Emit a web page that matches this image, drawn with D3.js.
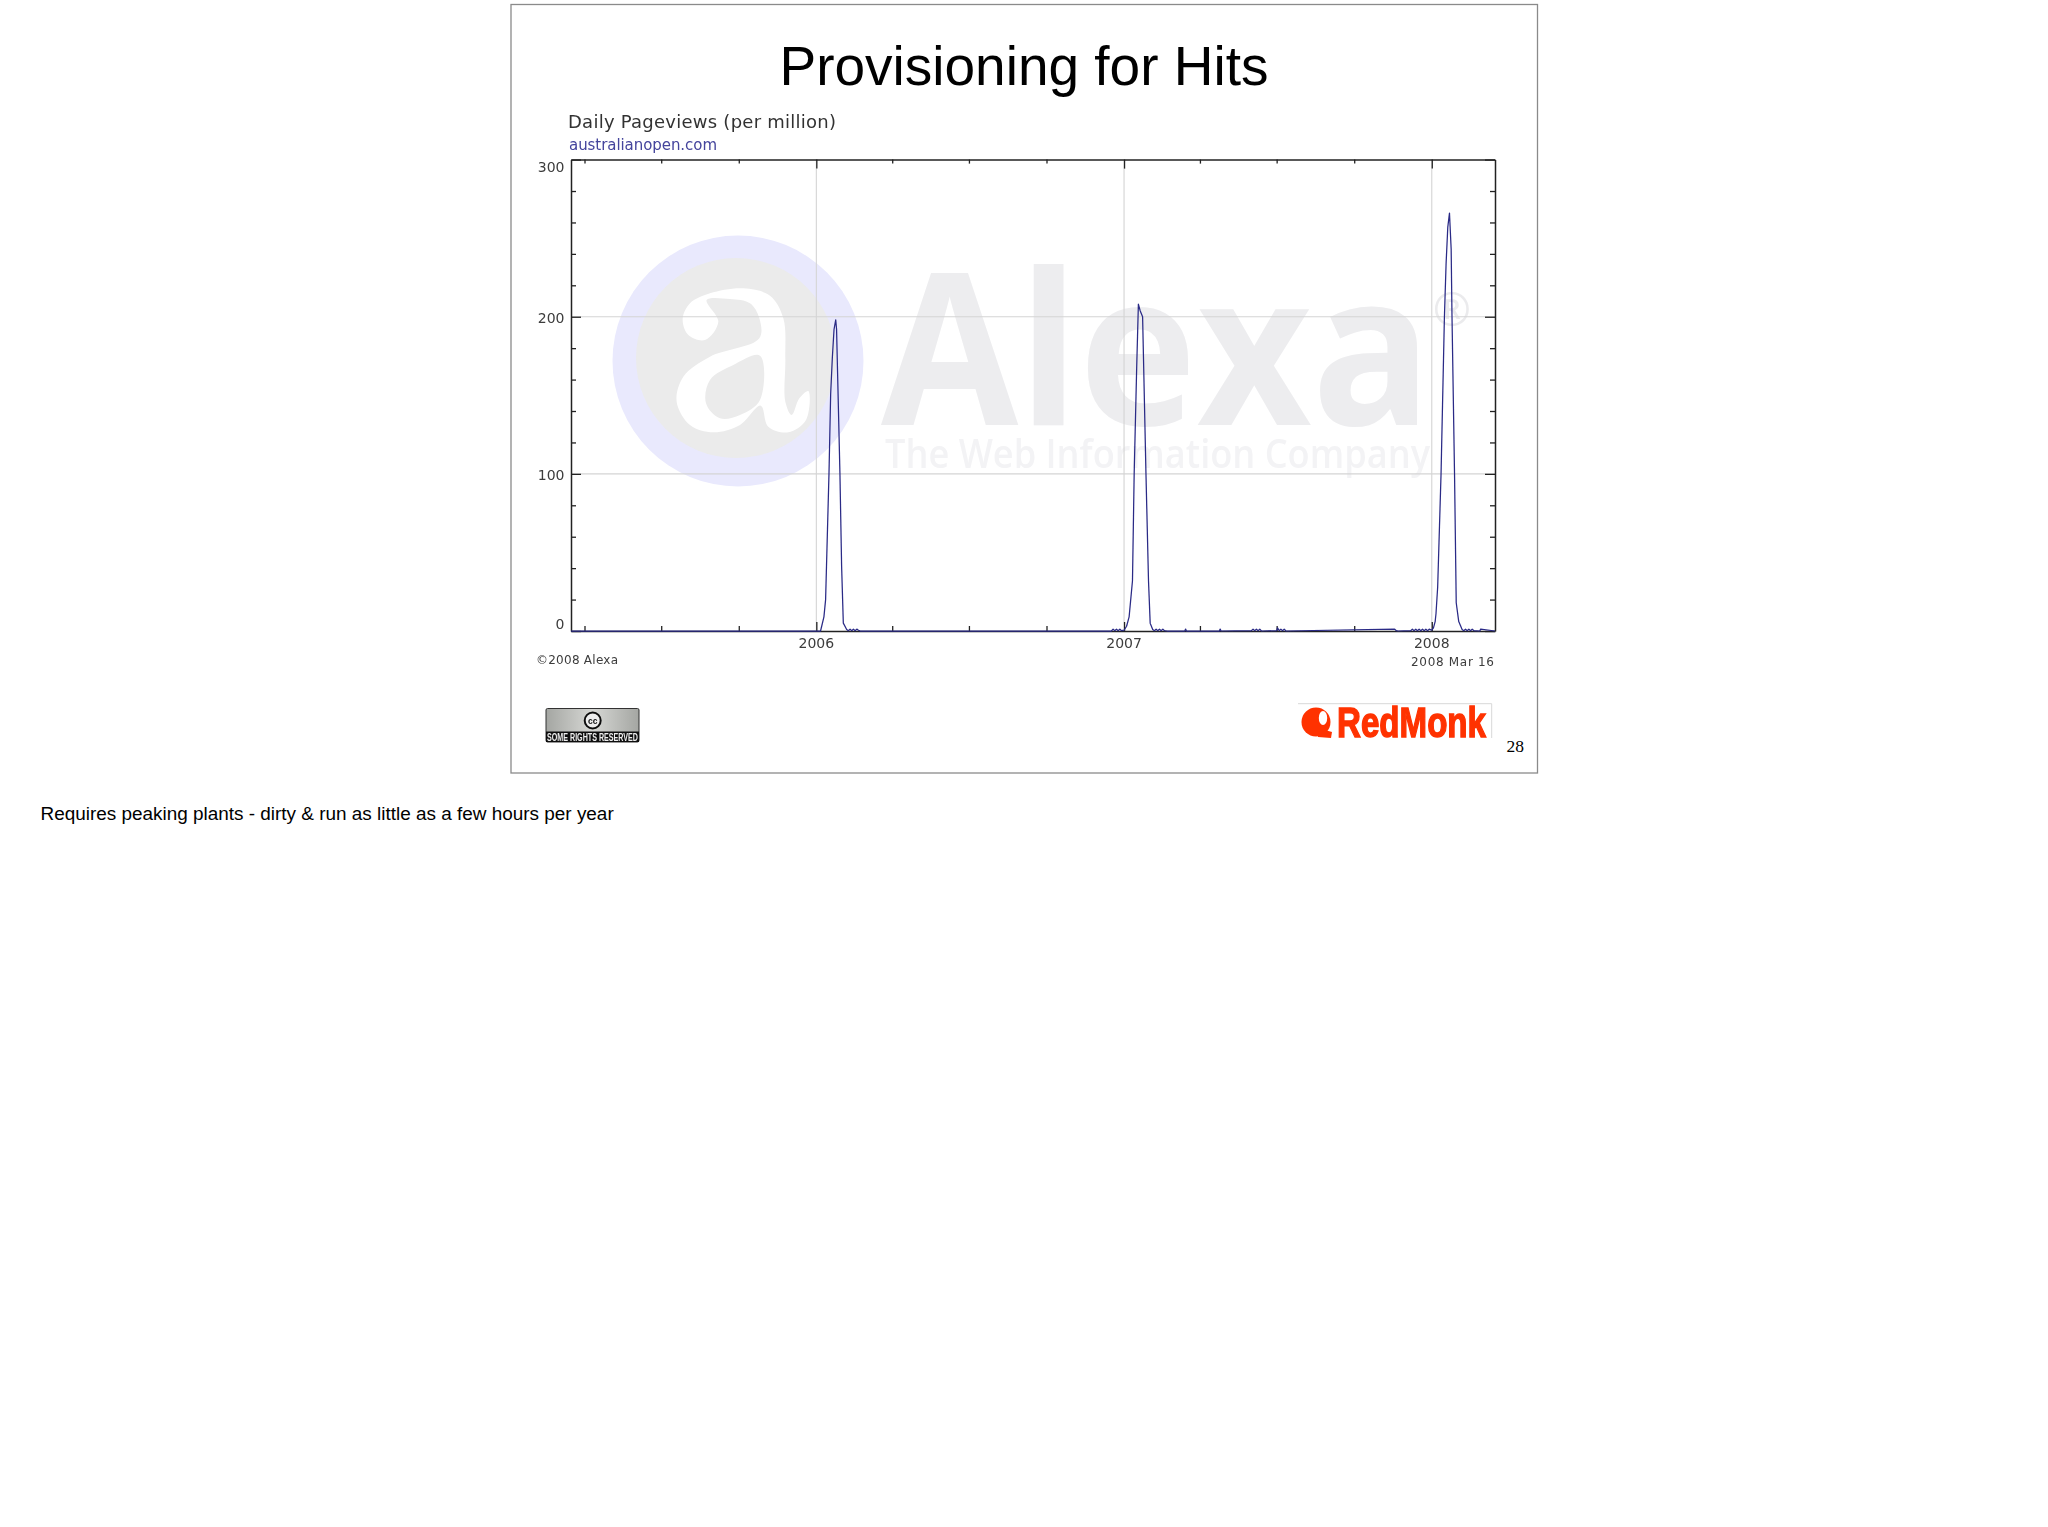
<!DOCTYPE html>
<html><head><meta charset="utf-8">
<script src="https://cdn.jsdelivr.net/npm/d3@7/dist/d3.min.js"></script>
<style>html,body{margin:0;padding:0;background:#fff}svg{display:block}text{font-family:"DejaVu Sans"}</style>
</head><body><svg id="c" width="2048" height="1527"></svg>
<script>
const slideTitle = "Provisioning for Hits";
const chartTitle = "Daily Pageviews (per million)";
const siteName = "australianopen.com";
const noteText = "Requires peaking plants - dirty & run as little as a few hours per year";
const yTickLabels = [0, 100, 200, 300];
const yMinorValues = [20,40,60,80,120,140,160,180,220,240,260,280];
const yearTicks = ["2006-01-01","2007-01-01","2008-01-01"];
const dateRange = ["2005-03-16","2008-03-16"];

const baseDates = ["2005-03-16","2005-06-01","2005-10-01","2006-01-01"];
const baseValues = [0,0,0,0];
const peak2006Dates = ["2006-01-06","2006-01-10","2006-01-12","2006-01-16","2006-01-18","2006-01-20","2006-01-22","2006-01-24","2006-01-25","2006-01-26","2006-01-29","2006-01-31","2006-02-02","2006-02-06"];
const peak2006Values = [0,9,20,100,151,174,192,198,192,169,100,41,5,1];
const tail2006Dates = ["2006-02-08","2006-02-10","2006-02-12","2006-02-14","2006-02-16","2006-02-18","2006-02-20","2006-02-22","2006-06-01","2006-10-01","2006-12-17"];
const tail2006Values = [0.2,1.2,0.2,1.2,0.2,1.2,0.5,0,0,0,0];
const lead2007Dates = ["2006-12-19","2006-12-21","2006-12-23","2006-12-25","2006-12-27","2006-12-29","2007-01-01"];
const lead2007Values = [1.2,0.2,1.2,0.2,1.2,0.2,0.5];
const peak2007Dates = ["2007-01-04","2007-01-07","2007-01-11","2007-01-13","2007-01-16","2007-01-18","2007-01-20","2007-01-23","2007-01-24","2007-01-27","2007-01-30","2007-02-01","2007-02-04"];
const peak2007Values = [3,9,32,100,168,208,204,200,175,100,32,5,1];
const tail2007Dates = ["2007-02-06","2007-02-08","2007-02-10","2007-02-12","2007-02-14","2007-02-16","2007-02-18","2007-02-21","2007-03-14","2007-03-15","2007-03-16","2007-04-24","2007-04-25","2007-04-26","2007-06-01","2007-06-03","2007-06-05","2007-06-07","2007-06-09","2007-06-11","2007-06-13","2007-07-01","2007-07-02","2007-07-04","2007-07-06","2007-07-08","2007-07-10","2007-07-12","2007-11-18","2007-11-20","2007-11-22","2007-12-07","2007-12-09","2007-12-11","2007-12-13","2007-12-15","2007-12-17","2007-12-19","2007-12-21","2007-12-23","2007-12-25","2007-12-27","2007-12-29"];
const tail2007Values = [0.2,1.2,0.2,1.2,0.2,1.2,0.2,0,0,1.2,0,0,1.2,0,0.2,1.2,0.2,1.2,0.2,1.2,0,0.2,2,0.2,1.2,0.2,1.2,0,1.2,0.2,0,0.2,1.2,0.2,1.2,0.2,1.2,0.2,1.2,0.2,1.2,0.2,1.2];
const peak2008Dates = ["2008-01-01","2008-01-03","2008-01-05","2008-01-06","2008-01-08","2008-01-12","2008-01-16","2008-01-18","2008-01-20","2008-01-22","2008-01-24","2008-01-25","2008-01-28","2008-01-30","2008-02-02","2008-02-06"];
const peak2008Values = [0.5,2,6,11,28,100,200,234,257,266,243,200,100,18,6,1];
const tail2008Dates = ["2008-02-08","2008-02-10","2008-02-12","2008-02-14","2008-02-16","2008-02-18","2008-02-20","2008-02-27","2008-02-28","2008-03-16"];
const tail2008Values = [0.2,1.2,0.2,1.2,0.2,1.2,0.2,0,1.2,0];

const allDates = [].concat(baseDates,peak2006Dates,tail2006Dates,lead2007Dates,peak2007Dates,tail2007Dates,peak2008Dates,tail2008Dates);
const allValues = [].concat(baseValues,peak2006Values,tail2006Values,lead2007Values,peak2007Values,tail2007Values,peak2008Values,tail2008Values);
const parse = d3.utcParse("%Y-%m-%d");
const series = allDates.map((d,i)=>({d:parse(d),v:allValues[i]}));

const L=571,R=1495,T=159.6,B=631;
const x = d3.scaleUtc().domain(dateRange.map(parse)).range([L,R]);
const y = d3.scaleLinear().domain([0,300]).range([B,T]);
const svg = d3.select("#c");
const SANS='"Liberation Sans"', AX="#222", TXT="#3c3c3c";

const defs = svg.append("defs");
defs.append("filter").attr("id","soft").append("feGaussianBlur").attr("stdDeviation",0.45);
const gr = defs.append("linearGradient").attr("id","ccg").attr("x1",0).attr("x2",1);
gr.append("stop").attr("offset",0).attr("stop-color","#a4a6a2");
gr.append("stop").attr("offset",.5).attr("stop-color","#d6d7d4");
gr.append("stop").attr("offset",1).attr("stop-color","#a4a6a2");

svg.append("rect").attr("x",511).attr("y",4.5).attr("width",1026.5).attr("height",768.5).attr("fill","#fff").attr("stroke","#8a8a8a").attr("stroke-width",1.3);
svg.append("text").attr("x",1024).attr("y",85).attr("text-anchor","middle").attr("font-size",55).style("font-family",SANS).attr("fill","#000").text(slideTitle);

const g = svg.append("g").attr("filter","url(#soft)");
// watermark
const wm = g.append("g");
wm.append("circle").attr("cx",738).attr("cy",361).attr("r",125.5).attr("fill","#e9e9fd");
wm.append("circle").attr("cx",736).attr("cy",358).attr("r",100).attr("fill","#ebebeb");
const logoX=d3.scaleLinear().domain([0,3]).range([600,601]), logoY=d3.scaleLinear().domain([0,3]).range([225,226]);
const logoPath=d3.line().x(p=>logoX(p[0])).y(p=>logoY(p[1])).curve(d3.curveCatmullRomClosed.alpha(0.5));
const aOuter=[[248,282],[270,235],[330,205],[430,190],[510,212],[550,280],[556,400],[556,530],[575,570],[598,520],[625,498],[618,585],[565,622],[505,605],[482,542],[420,600],[340,622],[270,600],[230,530],[250,455],[330,395],[478,340],[478,280],[450,235],[390,222],[320,225],[355,290],[315,345],[265,330]];
const aInner=[[480,392],[480,525],[420,570],[360,580],[318,535],[330,465],[400,420]];
wm.append("path").attr("d",logoPath(aOuter)+logoPath(aInner)).attr("fill-rule","evenodd").attr("fill","#fff");
wm.append("text").attr("x",881).attr("y",425).attr("font-size",212).attr("font-weight","bold").attr("textLength",551).attr("lengthAdjust","spacingAndGlyphs").style("font-family",'"Open Sans"').attr("fill","#ededef").text("Alexa");
wm.append("text").attr("x",885).attr("y",468).attr("font-size",39).attr("font-weight",600).attr("textLength",545).attr("lengthAdjust","spacingAndGlyphs").style("font-family",'"Open Sans"').attr("fill","#f3f3f5").text("The Web Information Company");
wm.append("text").attr("x",1452).attr("y",326).attr("text-anchor","middle").attr("font-size",46).style("font-family",'"Open Sans"').attr("fill","#ebebed").text("®");

// grid
g.append("g").selectAll("line").data(yearTicks.map(parse)).join("line").attr("x1",d=>x(d)).attr("x2",d=>x(d)).attr("y1",T).attr("y2",B).attr("stroke","#d4d4d4").attr("stroke-width",1.1);
g.append("g").selectAll("line").data([100,200]).join("line").attr("x1",L).attr("x2",R).attr("y1",d=>y(d)).attr("y2",d=>y(d)).attr("stroke","#d4d4d4").attr("stroke-width",1.1);

// axes via d3.axis
const quarters = d3.utcMonth.range(parse(dateRange[0]),x.domain()[1],1).filter(d=>d.getUTCMonth()%3===0);
function styleAxis(sel){sel.select(".domain").attr("stroke",AX).attr("stroke-width",1.5);sel.selectAll("line").attr("stroke",AX).attr("stroke-width",1.3);sel.selectAll("text").remove();}
const isYear=d=>d.getUTCMonth()===0;
const xb=g.append("g").attr("transform",`translate(0,${B})`).call(d3.axisBottom(x).tickValues(quarters).tickSizeOuter(0).tickSizeInner(0)).call(styleAxis);
xb.selectAll(".tick line").attr("y2",d=>isYear(d)?-9:-5);
const xt=g.append("g").attr("transform",`translate(0,${T})`).call(d3.axisTop(x).tickValues(quarters).tickSizeOuter(0).tickSizeInner(0)).call(styleAxis);
xt.selectAll(".tick line").attr("y2",d=>isYear(d)?9:4);
const allY=[...yTickLabels,...yMinorValues];
const isMajor=v=>v%100===0;
const yl=g.append("g").attr("transform",`translate(${L},0)`).call(d3.axisLeft(y).tickValues(allY).tickSizeOuter(0).tickSizeInner(0)).call(styleAxis);
yl.selectAll(".tick line").attr("x2",d=>isMajor(d)?10:5);
const yr=g.append("g").attr("transform",`translate(${R},0)`).call(d3.axisRight(y).tickValues(allY).tickSizeOuter(0).tickSizeInner(0)).call(styleAxis);
yr.selectAll(".tick line").attr("x2",d=>isMajor(d)?-10:-5);

// line
g.append("path").datum(series).attr("fill","none").attr("stroke","#2a2a86").attr("stroke-width",1.25).attr("stroke-linejoin","round")
 .attr("d",d3.line().x(d=>x(d.d)).y(d=>y(d.v)));

// labels
g.append("g").selectAll("text").data(yTickLabels).join("text").attr("x",564.5).attr("text-anchor","end").attr("font-size",14).attr("fill",TXT)
 .attr("y",d=>Math.min(628.5,Math.max(172,y(d)+6))).text(d=>d);
g.append("g").selectAll("text").data(yearTicks).join("text").attr("x",d=>x(parse(d))).attr("y",648).attr("text-anchor","middle").attr("font-size",14).attr("fill",TXT).text(d=>d.slice(0,4));
g.append("text").attr("x",568).attr("y",127.5).attr("font-size",18).attr("textLength",268).attr("fill","#333").text(chartTitle);
g.append("text").attr("x",569).attr("y",150).attr("font-size",15).attr("textLength",148).attr("fill","#44449c").text(siteName);
g.append("text").attr("x",536).attr("y",664).attr("font-size",12).attr("textLength",82).attr("fill",TXT).text("©2008 Alexa");
g.append("text").attr("x",1411).attr("y",665.5).attr("font-size",12).attr("textLength",83).attr("fill",TXT).text("2008 Mar 16");

// CC badge
const cc=g.append("g");
cc.append("rect").attr("x",546).attr("y",708.5).attr("width",93).attr("height",33.5).attr("rx",1.5).attr("fill","url(#ccg)").attr("stroke","#333").attr("stroke-width",1);
cc.append("rect").attr("x",546).attr("y",731.5).attr("width",93).attr("height",10.5).attr("fill","#111");
cc.append("circle").attr("cx",592.7).attr("cy",720.5).attr("r",8).attr("fill","#eee").attr("stroke","#111").attr("stroke-width",2);
cc.append("text").attr("x",592.7).attr("y",723.5).attr("text-anchor","middle").attr("font-size",8.5).attr("font-weight","bold").style("font-family",SANS).attr("fill","#111").text("cc");
cc.append("text").attr("x",547).attr("y",740.5).attr("font-size",10).attr("font-weight","bold").attr("textLength",91).attr("lengthAdjust","spacingAndGlyphs").style("font-family",SANS).attr("fill","#eee").text("SOME RIGHTS RESERVED");

// RedMonk
const rm=g.append("g");
rm.append("path").attr("d",d3.line()([[1298,703.7],[1491.7,703.7],[1491.7,738]])).attr("fill","none").attr("stroke","#d8d8d8").attr("stroke-width",1);
rm.append("circle").attr("cx",1316).attr("cy",722).attr("r",14.5).attr("fill","#ff3200");
rm.append("path").attr("d",d3.line()([[1318,728],[1332,732],[1331,738],[1318,737]])).attr("fill","#ff3200");
rm.append("ellipse").attr("cx",1323).attr("cy",718).attr("rx",4.2).attr("ry",7).attr("fill","#fff");
rm.append("text").attr("x",1337).attr("y",736.5).attr("font-size",42).attr("font-weight","bold").attr("textLength",149).attr("lengthAdjust","spacingAndGlyphs").attr("stroke","#ff3200").attr("stroke-width",1.4).style("font-family",SANS).attr("fill","#ff3200").text("RedMonk");

svg.append("text").attr("x",1506.5).attr("y",751.5).attr("font-size",17.5).style("font-family",'"Liberation Serif"').attr("fill","#000").text("28");
svg.append("text").attr("x",40.5).attr("y",819.5).attr("font-size",18.93).style("font-family",SANS).attr("fill","#000").text(noteText);
</script></body></html>
